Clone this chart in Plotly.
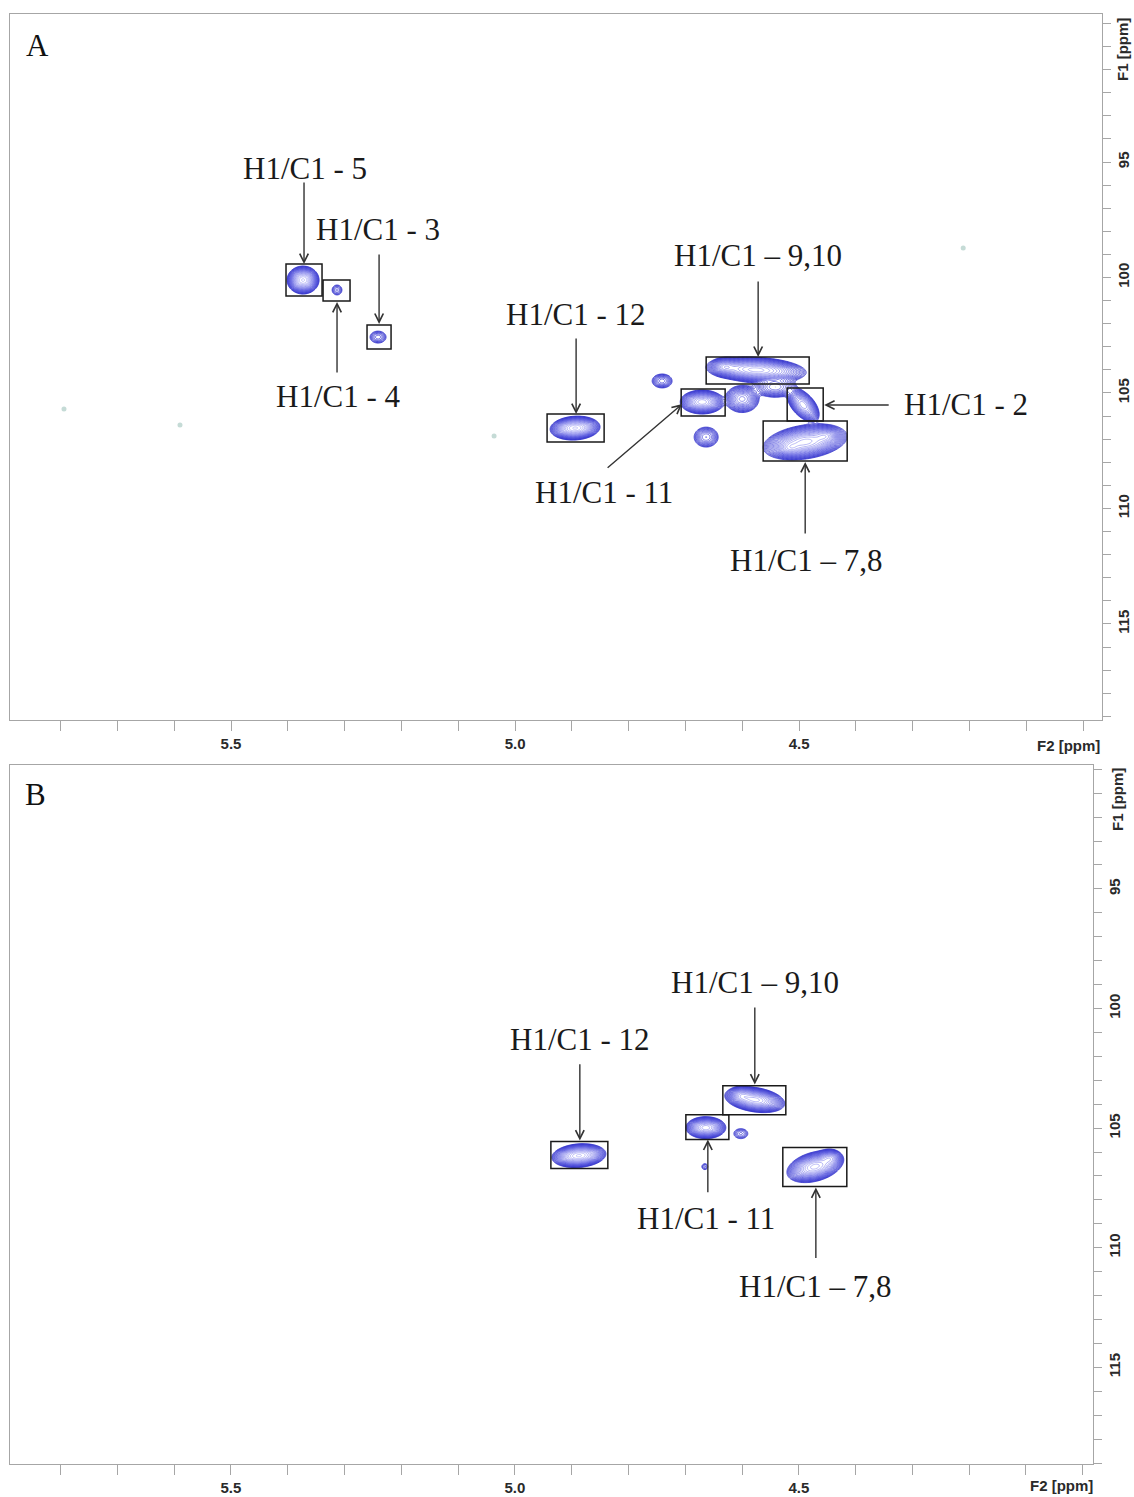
import numpy as np
import plotly.graph_objects as go

# ---------------- data (ppm) ----------------
# Panel A cross peaks: F2 (1H) centre, F1 (13C) centre, widths, intensity, tilt
a_cx = [5.3732, 5.3134, 5.2412, 4.8944,
        4.5757, 4.6303, 4.5423,            # 9,10 band
        4.6708, 4.6004,                    # 11 + shoulder
        4.4930,                            # 2
        4.4894, 4.5158, 4.4542,            # 7,8
        4.7412, 4.6637]                    # unassigned
a_cy = [100.11, 100.54, 102.58, 106.52,
        104.00, 103.87, 104.74,
        105.39, 105.26,
        105.52,
        107.12, 107.38, 106.86,
        104.48, 106.91]
a_sx = [0.0093, 0.0059, 0.0085, 0.0145,
        0.0302, 0.0094, 0.0160,
        0.0135, 0.0121,
        0.0104,
        0.0254, 0.0094, 0.0094,
        0.0093, 0.0104]
a_sy = [0.200, 0.146, 0.156, 0.171,
        0.193, 0.149, 0.200,
        0.182, 0.240,
        0.270,
        0.267, 0.149, 0.149,
        0.160, 0.212]
a_amp = [100, 3, 4, 100,
         70, 30, 12,
         60, 20,
         40,
         70, 30, 30,
         6, 8]
a_rho = [0.0, 0.0, 0.0, 0.1,
         -0.2, 0.0, 0.0,
         0.0, 0.0,
         -0.55,
         0.3, 0.0, 0.0,
         0.0, 0.0]

# Panel A faint (negative-phase) noise spots
a_noise_x = [4.2113, 5.7940, 5.5898, 5.0370]
a_noise_y = [98.72, 105.69, 106.39, 106.86]

# Panel B cross peaks
b_cx = [4.8873, 4.5775, 4.6004, 4.6637, 4.4718, 4.4454, 4.6021, 4.6655]
b_cy = [106.15, 103.81, 103.64, 104.98, 106.61, 106.27, 105.23, 106.61]
b_sx = [0.0157, 0.0181, 0.0081, 0.0123, 0.0169, 0.0081, 0.0083, 0.0045]
b_sy = [0.165, 0.186, 0.144, 0.161, 0.229, 0.144, 0.141, 0.106]
b_amp = [100, 70, 30, 60, 70, 30, 3, 2]
b_rho = [0.15, -0.3, 0.0, 0.0, 0.35, 0.0, 0.0, 0.0]

# Tick labels
x_tickvals = [round(5.8 - 0.1 * i, 1) for i in range(19)]
x_ticktext = ["5.5" if v == 5.5 else "5.0" if v == 5.0 else "4.5" if v == 4.5 else "" for v in x_tickvals]
y_tickvals = list(range(89, 120))
y_ticktext = [str(v) if v in (95, 100, 105, 110, 115) else "" for v in y_tickvals]

# Peak assignments (label text, label pos, arrow tail, arrow head, box x0,x1,y0,y1)
labels_a = [
    ("H1/C1 - 5", (5.3697, 95.30), (5.3715, 95.82), (5.3715, 99.42), (5.4032, 5.3398, 99.42, 100.80)),
    ("H1/C1 - 3", (5.2412, 97.90), (5.2394, 98.94), (5.2394, 102.01), (5.2606, 5.2183, 102.06, 103.10)),
    ("H1/C1 - 4", (5.3116, 105.17), (5.3134, 104.18), (5.3134, 101.06), (5.3380, 5.2905, 100.11, 101.02)),
    ("H1/C1 - 12", (4.8926, 101.62), (4.8926, 102.58), (4.8926, 105.91), (4.9437, 4.8433, 105.91, 107.12)),
    ("H1/C1 \u2013 9,10", (4.5722, 99.03), (4.5722, 100.11), (4.5722, 103.44), (4.6637, 4.4824, 103.44, 104.61)),
    ("H1/C1 - 2", (4.2060, 105.52), (4.3398, 105.52), (4.4560, 105.52), (4.5211, 4.4577, 104.78, 106.21)),
    ("H1/C1 - 11", (4.8433, 109.33), (4.8398, 108.29), (4.7060, 105.48), (4.7077, 4.6303, 104.83, 106.00)),
    ("H1/C1 \u2013 7,8", (4.4877, 112.27), (4.4894, 111.15), (4.4894, 107.99), (4.5634, 4.4155, 106.21, 107.94)),
]
labels_b = [
    ("H1/C1 - 12", (4.8856, 101.31), (4.8856, 102.27), (4.8856, 105.52), (4.9366, 4.8363, 105.56, 106.69)),
    ("H1/C1 \u2013 9,10", (4.5775, 98.93), (4.5775, 99.89), (4.5775, 103.18), (4.6338, 4.5229, 103.23, 104.44)),
    ("H1/C1 - 11", (4.6637, 108.78), (4.6602, 107.74), (4.6602, 105.48), (4.6989, 4.6232, 104.44, 105.48)),
    ("H1/C1 \u2013 7,8", (4.4718, 111.62), (4.4700, 110.49), (4.4700, 107.48), (4.5282, 4.4155, 105.81, 107.44)),
]


def spectrum(x, y, cx, cy, sx, sy, amp, rho):
    X, Y = np.meshgrid(x, y)
    Z = np.zeros_like(X)
    for px, py, wx, wy, a, r in zip(cx, cy, sx, sy, amp, rho):
        u = (X - px) / wx
        v = (Y - py) / wy
        q = (u * u - 2 * r * u * v + v * v) / (1 - r * r)
        Z += a * np.exp(-0.5 * q)
    return np.log10(Z + 1e-6).astype(np.float32)


xa = np.linspace(4.36, 5.45, 480)
ya = np.linspace(98.5, 109.3, 340)
za = spectrum(xa, ya, a_cx, a_cy, a_sx, a_sy, a_amp, a_rho)
xb = np.linspace(4.36, 5.0, 320)
yb = np.linspace(102.0, 108.6, 240)
zb = spectrum(xb, yb, b_cx, b_cy, b_sx, b_sy, b_amp, b_rho)

cscale = [[0, "rgb(40,40,200)"], [0.45, "rgb(85,85,222)"], [1, "rgb(185,185,248)"]]
ccont = dict(start=0.0, end=2.1, size=0.09, coloring="lines")

fig = go.Figure()
fig.add_trace(go.Contour(x=xa, y=ya, z=za, xaxis="x", yaxis="y", contours=ccont,
                         colorscale=cscale, line=dict(width=0.75), showscale=False,
                         hoverinfo="skip"))
fig.add_trace(go.Scatter(x=a_noise_x, y=a_noise_y, xaxis="x", yaxis="y", mode="markers",
                         marker=dict(size=5, color="rgba(150,190,180,0.55)"),
                         hoverinfo="skip", showlegend=False))
fig.add_trace(go.Contour(x=xb, y=yb, z=zb, xaxis="x2", yaxis="y2", contours=ccont,
                         colorscale=cscale, line=dict(width=0.75), showscale=False,
                         hoverinfo="skip"))

W, H = 1134, 1497
axis_col = "#a6a6a6"
tick_font = dict(family="Liberation Sans, Arial, sans-serif", size=15, color="#2a2a2a", weight="bold")


def xaxis(rng, dom, anchor):
    return dict(range=rng, domain=dom, anchor=anchor, showline=True, mirror=True,
                linecolor=axis_col, linewidth=1, ticks="outside", ticklen=10,
                tickcolor=axis_col, tickwidth=1, tickmode="array", tickvals=x_tickvals,
                ticktext=x_ticktext, tickfont=tick_font, showgrid=False, zeroline=False)


def yaxis(rng, dom, anchor):
    return dict(range=rng, domain=dom, anchor=anchor, side="right", showline=True,
                mirror=True, linecolor=axis_col, linewidth=1, ticks="outside", ticklen=8,
                tickcolor=axis_col, tickwidth=1, tickmode="array", tickvals=y_tickvals,
                ticktext=y_ticktext, tickangle=-90, tickfont=tick_font, showgrid=False,
                zeroline=False)


fig.update_layout(
    width=W, height=H, margin=dict(l=0, r=0, t=0, b=0),
    paper_bgcolor="white", plot_bgcolor="white", showlegend=False,
    xaxis=xaxis([5.889, 3.967], [10 / W, 1102 / W], "y"),
    yaxis=yaxis([119.16, 88.59], [1 - 720 / H, 1 - 14 / H], "x"),
    xaxis2=xaxis([5.889, 3.982], [10 / W, 1093 / W], "y2"),
    yaxis2=yaxis([119.04, 89.82], [1 - 1464 / H, 1 - 765 / H], "x2"),
)

ann = []
shapes = []
lab_font = dict(family="Liberation Serif, Times New Roman, serif", size=31, color="#1a1a1a")
for specs, xr, yr in ((labels_a, "x", "y"), (labels_b, "x2", "y2")):
    for text, (lx, ly), (tx, ty), (hx, hy), (bx0, bx1, by0, by1) in specs:
        ann.append(dict(x=lx, y=ly, xref=xr, yref=yr, text=text, showarrow=False,
                        font=lab_font, xanchor="center", yanchor="middle"))
        ann.append(dict(x=hx, y=hy, xref=xr, yref=yr, ax=tx, ay=ty, axref=xr, ayref=yr,
                        text="", showarrow=True, arrowhead=5, arrowsize=1.2,
                        arrowwidth=1.4, arrowcolor="#333333", standoff=0))
        shapes.append(dict(type="rect", xref=xr, yref=yr, x0=bx0, x1=bx1, y0=by0, y1=by1,
                           line=dict(color="#1a1a1a", width=1.5), fillcolor="rgba(0,0,0,0)"))


def paper_text(px, py, text, font, angle=0):
    return dict(x=px / W, y=1 - py / H, xref="paper", yref="paper", text=text,
                showarrow=False, textangle=angle, font=font,
                xanchor="center", yanchor="middle")


letter_font = dict(family="Liberation Serif, serif", size=31, color="#111")
ann.append(paper_text(37, 46, "A", letter_font))
ann.append(paper_text(35, 794, "B", letter_font))
ann.append(paper_text(1123, 50, "F1 [ppm]", tick_font, -90))
ann.append(paper_text(1117, 800, "F1 [ppm]", tick_font, -90))
ann.append(paper_text(1068, 745, "F2 [ppm]", tick_font))
ann.append(paper_text(1061, 1485, "F2 [ppm]", tick_font))

fig.update_layout(annotations=ann, shapes=shapes)
fig.write_html("out.html")
